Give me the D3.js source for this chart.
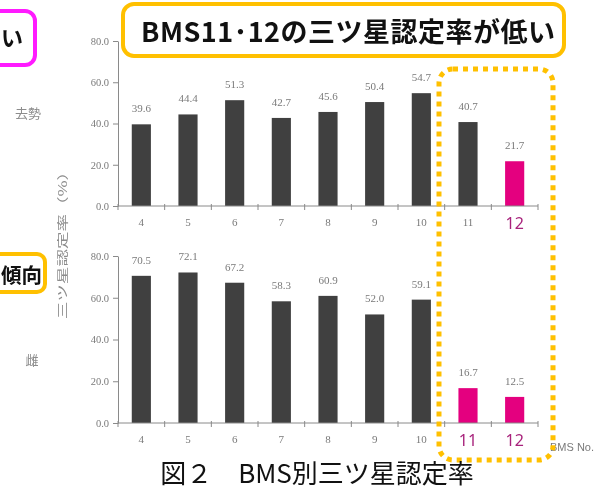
<!DOCTYPE html>
<html>
<head>
<meta charset="utf-8">
<script src="https://cdn.jsdelivr.net/npm/d3@7/dist/d3.min.js"></script>
<style>
  html, body { margin: 0; padding: 0; background: #fff; }
  svg { display: block; }
  svg { font-family: "Noto Sans CJK JP", "Noto Sans", sans-serif; }
</style>
</head>
<body>
<svg id="chart" width="613" height="492"></svg>
<script>
// BMS numbers on the x axis
const bmsNo = ["4", "5", "6", "7", "8", "9", "10", "11", "12"];
// Three-star certification rate (%) — castrated males
const castratedRate = [39.6, 44.4, 51.3, 42.7, 45.6, 50.4, 54.7, 40.7, 21.7];
// Three-star certification rate (%) — heifers
const femaleRate = [70.5, 72.1, 67.2, 58.3, 60.9, 52.0, 59.1, 16.7, 12.5];
// BMS numbers emphasised in each panel
const castratedHighlight = ["12"];
const femaleHighlight = ["11", "12"];
// y-axis tick values
const yTicks = [0, 20, 40, 60, 80];

const svg = d3.select("#chart");
const dark = "#404040";
const magenta = "#e4007f";
const labelMagenta = "#a8237c";
const gold = "#ffc000";
const grey = "#7a7a7a";
const numFont = "'Liberation Serif', 'DejaVu Serif', serif";

const x = d3.scaleBand()
  .domain(bmsNo)
  .range([118, 538])
  .paddingInner(0.59)
  .paddingOuter(0.295);

const soft = svg.append("defs").append("filter").attr("id", "soft");
soft.append("feGaussianBlur").attr("stdDeviation", 0.35);

function panel(values, highlight, yRange) {
  const y = d3.scaleLinear().domain([0, 80]).range(yRange);
  const g = svg.append("g").attr("filter", "url(#soft)");
  const rows = bmsNo.map((b, i) => ({ bms: b, value: values[i], hi: highlight.includes(b) }));

  // y axis
  const ya = g.append("g")
    .attr("transform", "translate(118,0)")
    .call(d3.axisLeft(y).tickValues(yTicks).tickFormat(d3.format(".1f"))
      .tickSize(5).tickSizeOuter(0).tickPadding(4));
  ya.select(".domain").attr("stroke", "#8a8a8a");
  ya.selectAll(".tick line").attr("stroke", "#8a8a8a");
  ya.selectAll(".tick text").attr("fill", grey)
    .style("font-size", "10.5px").style("font-family", numFont);

  // bars
  g.selectAll("rect.bar").data(rows).join("rect")
    .attr("class", "bar")
    .attr("x", d => x(d.bms))
    .attr("width", x.bandwidth())
    .attr("y", d => y(d.value))
    .attr("height", d => y(0) - y(d.value))
    .attr("fill", d => d.hi ? magenta : dark);

  // value labels
  g.selectAll("text.val").data(rows).join("text")
    .attr("class", "val")
    .attr("x", d => x(d.bms) + x.bandwidth() / 2)
    .attr("y", d => y(d.value) - 12)
    .attr("text-anchor", "middle")
    .style("font-size", "11px")
    .style("font-family", numFont)
    .attr("fill", grey)
    .text(d => d.value.toFixed(1));

  // x axis with category labels
  const xa = g.append("g")
    .attr("transform", `translate(0,${y(0)})`)
    .call(d3.axisBottom(x).tickSize(0).tickSizeOuter(0).tickPadding(0));
  xa.select(".domain").attr("stroke", "#8a8a8a").attr("d", "M118,0H538");
  xa.selectAll(".tick text")
    .attr("dy", null)
    .attr("y", b => highlight.includes(b) ? 23 : 20)
    .style("font-size", b => highlight.includes(b) ? "16px" : "11px")
    .style("font-family", b => highlight.includes(b) ? "'Noto Sans', sans-serif" : numFont)
    .attr("fill", b => highlight.includes(b) ? labelMagenta : grey);

  // boundary tick marks between categories
  const step = x.step();
  const gap = (step - x.bandwidth()) / 2;
  g.selectAll("line.sep").data(bmsNo).join("line")
    .attr("class", "sep")
    .attr("x1", b => x(b) - gap).attr("x2", b => x(b) - gap)
    .attr("y1", y(0) - 2).attr("y2", y(0) + 4)
    .attr("stroke", "#8a8a8a");
  g.append("line")
    .attr("x1", 538).attr("x2", 538)
    .attr("y1", y(0) - 2).attr("y2", y(0) + 4)
    .attr("stroke", "#8a8a8a");
  return g;
}

panel(castratedRate, castratedHighlight, [206, 41]);
panel(femaleRate, femaleHighlight, [423, 256]);

// side labels and shared axis title
const side = svg.append("g").attr("filter", "url(#soft)").attr("fill", "#8c8c8c");
side.append("text").attr("x", 28).attr("y", 118).attr("text-anchor", "middle")
  .style("font-size", "13px").text("去勢");
side.append("text").attr("x", 32).attr("y", 365).attr("text-anchor", "middle")
  .style("font-size", "13px").text("雌");
side.append("text")
  .attr("transform", "translate(67,241) rotate(-90)")
  .attr("text-anchor", "middle")
  .style("font-size", "11.5px")
  .attr("textLength", 156)
  .attr("lengthAdjust", "spacingAndGlyphs")
  .text("三ツ星認定率（%）");

svg.append("text").attr("x", 550).attr("y", 451)
  .style("font-size", "11px").attr("fill", grey).attr("filter", "url(#soft)")
  .style("font-family", "'Liberation Sans', sans-serif")
  .text("BMS No.");

// dotted frame around BMS 11–12
svg.append("rect")
  .attr("x", 439).attr("y", 69).attr("width", 114).attr("height", 391)
  .attr("rx", 14)
  .attr("fill", "none").attr("stroke", gold)
  .attr("stroke-width", 5).attr("stroke-dasharray", "5 5");

// callout boxes
svg.append("rect")
  .attr("x", 123).attr("y", 4).attr("width", 441).attr("height", 52)
  .attr("rx", 11).attr("fill", "#fff")
  .attr("stroke", gold).attr("stroke-width", 4);
svg.append("text")
  .attr("x", 141).attr("y", 42)
  .style("font-size", "27px").style("font-weight", 700)
  .style("letter-spacing", "0.5px").attr("fill", "#111")
  .text("BMS11･12の三ツ星認定率が低い");

svg.append("rect")
  .attr("x", -20).attr("y", 11).attr("width", 55).attr("height", 54)
  .attr("rx", 10).attr("fill", "#fff")
  .attr("stroke", "#ff1aff").attr("stroke-width", 4);
svg.append("text")
  .attr("x", 1).attr("y", 46)
  .style("font-size", "22px").style("font-weight", 700).attr("fill", "#111")
  .text("い");

svg.append("rect")
  .attr("x", -20).attr("y", 254).attr("width", 65).attr("height", 38)
  .attr("rx", 8).attr("fill", "#fff")
  .attr("stroke", gold).attr("stroke-width", 4);
svg.append("text")
  .attr("x", 1).attr("y", 283)
  .style("font-size", "20.5px").style("font-weight", 700).attr("fill", "#111")
  .text("傾向");

// figure caption
svg.append("text")
  .attr("x", 317).attr("y", 483).attr("text-anchor", "middle")
  .style("font-size", "26px").attr("fill", "#111")
  .text("図２　BMS別三ツ星認定率");
</script>
</body>
</html>
